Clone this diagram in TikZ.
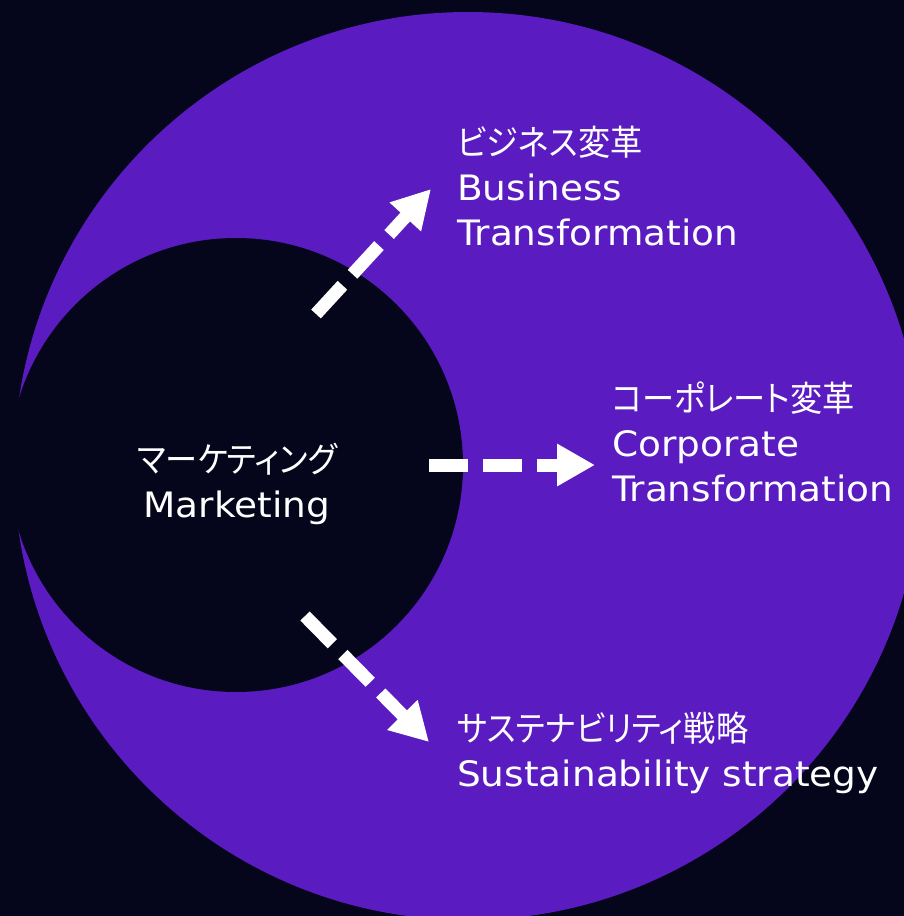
\documentclass[tikz,border=0pt]{standalone}
\usepackage{fontspec}
\setmainfont{DejaVu Sans}[FakeStretch=1.07]
\newfontfamily\jpfont{Noto Sans CJK JP}[RawFeature=+palt, FakeStretch=0.92]
\usetikzlibrary{positioning, arrows.meta}
\definecolor{bgnavy}{HTML}{05061B}
\definecolor{ringpurple}{HTML}{5A1BC1}

\begin{document}
\begin{tikzpicture}[x=1pt, y=-1pt,
    every node/.style={text=white, inner sep=0pt, font=\fontsize{35}{45}\selectfont},
    block/.style={align=left, anchor=base west},
    flow/.style={white, line width=13pt, dash pattern=on 39pt off 15pt,
        -{Triangle[length=38pt, width=40pt]}}]
    \useasboundingbox (0,0) rectangle (904,916);
    \clip (0,0) rectangle (904,916);
    \fill[bgnavy] (0,0) rectangle (904,916);

    % Circles
    \fill[ringpurple] (468,466) circle[radius=454];
    \fill[bgnavy] (236,465) circle[radius=227];

    % Labels (anchored at the last baseline)
    \node[align=center, anchor=base] (mkt) at (237,517) {{\jpfont マーケティング}\\Marketing};
    \node[block] (biz) at (457,245) {{\jpfont ビジネス変革}\\Business\\Transformation};
    \node[block] (corp) at (612,501) {{\jpfont コーポレート変革}\\Corporate\\Transformation};
    \node[block] (sus) at (457,786) {{\jpfont サステナビリティ戦略}\\Sustainability strategy};

    % Arrows
    \coordinate (bizfrom) at (316,314);
    \coordinate (bizto) at (431,189);
    \coordinate (corpfrom) at (429,465);
    \coordinate (corpto) at (595,465);
    \coordinate (susfrom) at (305,616);
    \coordinate (susto) at (429,742);

    \draw[flow] (bizfrom) -- (bizto);
    \draw[flow] (corpfrom) -- (corpto);
    \draw[flow] (susfrom) -- (susto);
\end{tikzpicture}
\end{document}
